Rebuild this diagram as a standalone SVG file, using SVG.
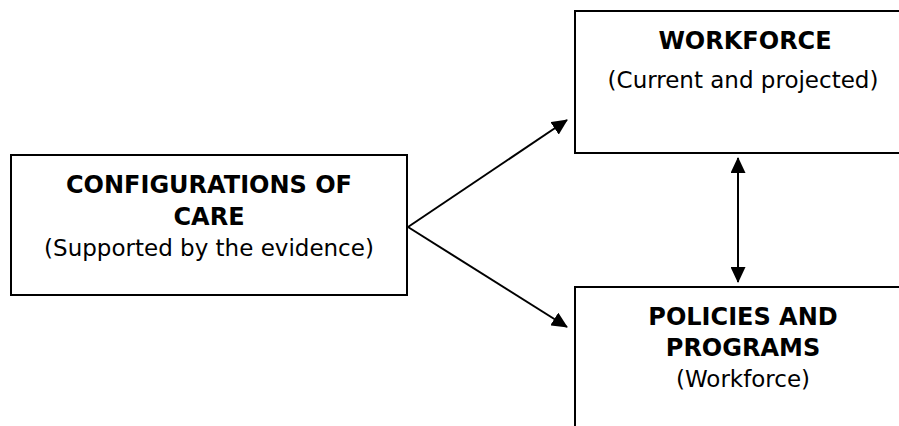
<svg xmlns="http://www.w3.org/2000/svg" width="899" height="426" viewBox="0 0 899 426">
<style>
.box{fill:#fff;stroke:#000;stroke-width:2}
.t{font-family:"DejaVu Sans",Verdana,sans-serif;font-size:23px;fill:#000;text-anchor:middle}
.b{font-weight:bold;font-size:24px}
.c{stroke:#000;stroke-width:2;fill:none}
</style>
<defs>
<marker id="ah" viewBox="0 0 16 15" markerUnits="userSpaceOnUse" markerWidth="16" markerHeight="15" refX="15" refY="7.5" orient="auto-start-reverse">
<path d="M0,0 L16,7.5 L0,15 z" fill="#000"/>
</marker>
</defs>
<rect width="899" height="426" fill="#fff"/>
<g id="configurations">
<rect class="box" x="11" y="155" width="396" height="140"/>
<text class="t b" x="209" y="193">CONFIGURATIONS OF</text>
<text class="t b" x="209" y="225">CARE</text>
<text class="t" x="209" y="256">(Supported by the evidence)</text>
</g>
<g id="workforce">
<rect class="box" x="575" y="11" width="340" height="142"/>
<text class="t b" x="745" y="49">WORKFORCE</text>
<text class="t" x="743" y="88">(Current and projected)</text>
</g>
<g id="policies">
<rect class="box" x="575" y="287" width="340" height="160"/>
<text class="t b" x="743" y="325">POLICIES AND</text>
<text class="t b" x="743" y="356">PROGRAMS</text>
<text class="t" x="743" y="387">(Workforce)</text>
</g>
<g id="connectors">
<line class="c" x1="408" y1="227" x2="567" y2="120" marker-end="url(#ah)"/>
<line class="c" x1="408" y1="227" x2="567" y2="327" marker-end="url(#ah)"/>
<line class="c" x1="738" y1="158" x2="738" y2="282" marker-start="url(#ah)" marker-end="url(#ah)"/>
</g>
</svg>
